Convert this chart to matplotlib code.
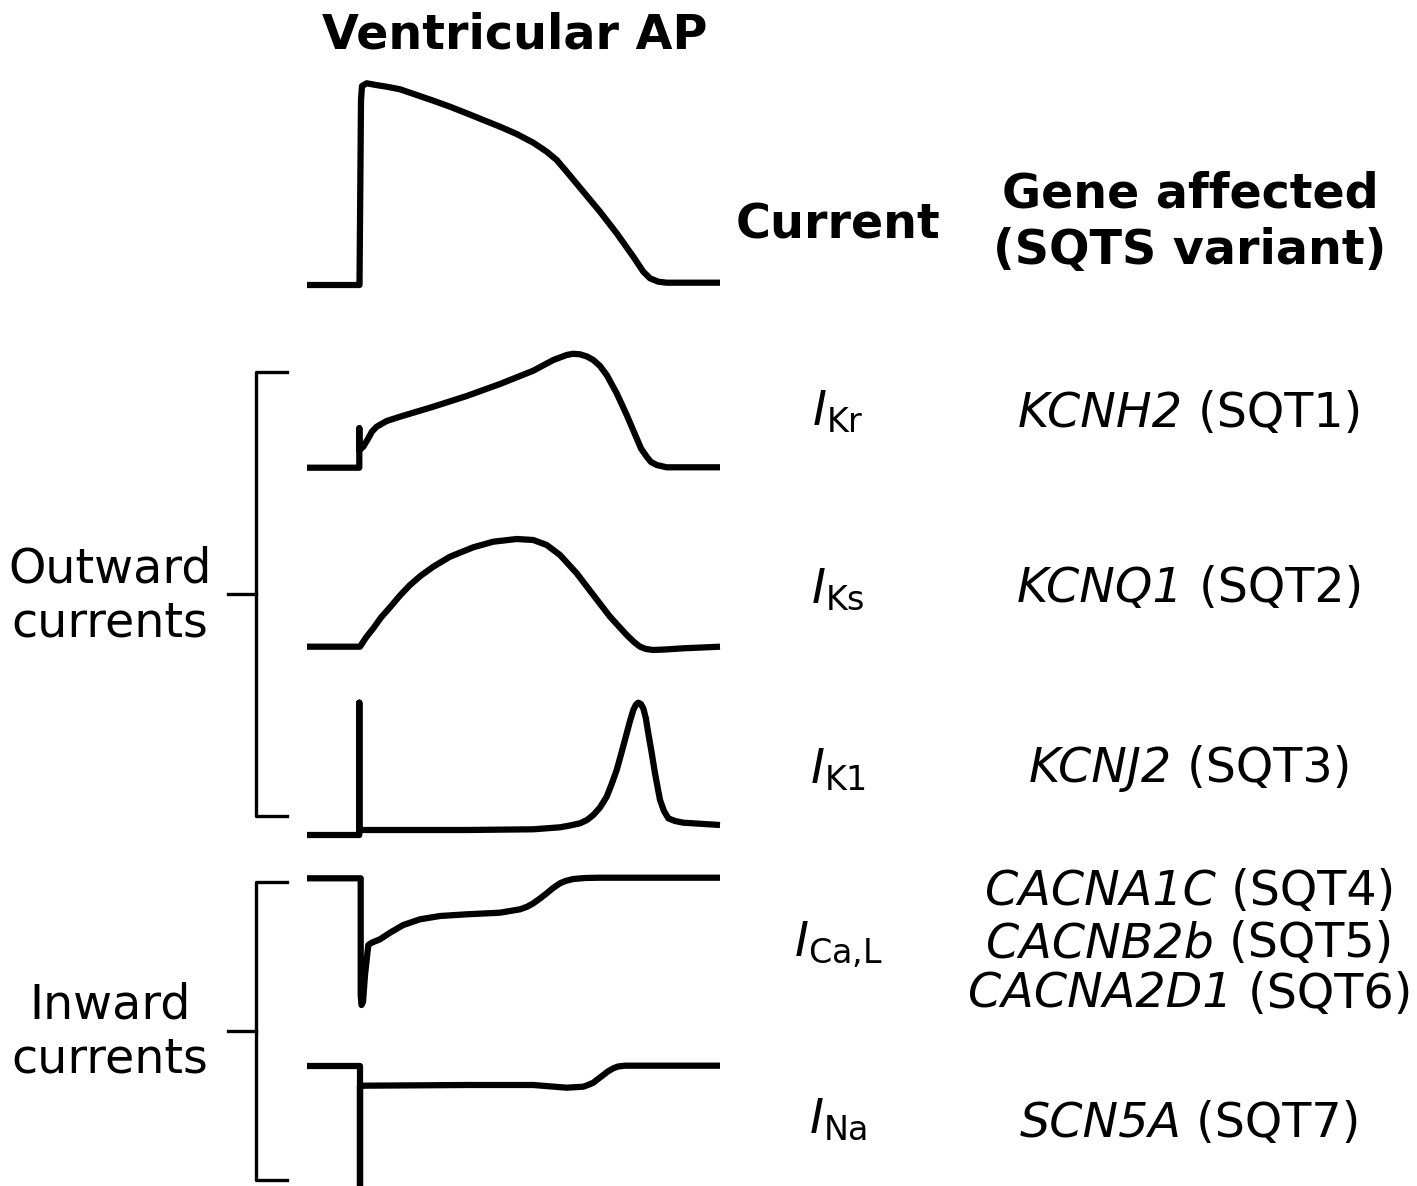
import matplotlib
matplotlib.use("Agg")
import matplotlib.pyplot as plt

plt.rcParams['font.family'] = ['DejaVu Sans']
plt.rcParams['mathtext.fontset'] = 'dejavusans'

# Traces (x, y in picture pixels, y grows downward)
ap_x = [307, 359, 359.5, 361, 362, 366.7, 376, 386.7, 400, 416.7, 433.3, 450, 466.7, 483.3, 500,
        516.7, 533.3, 546.7, 556.7, 566.7, 583.3, 600, 616.7, 633.3, 643.3, 650, 658.3, 666.7, 720]
ap_y = [285, 285, 285, 100, 86, 83.3, 85, 86.7, 89.3, 95, 100.7, 106.7, 113.3, 120, 126.7,
        134, 142.7, 151.7, 160, 171.7, 191.7, 211.7, 233.3, 256.7, 271.7, 278.3, 281.7, 282.7, 282.7]

ikr_x = [307, 359.3, 359.3, 359.3, 363.3, 368.3, 372, 376.7, 386.7, 400, 433.3, 466.7, 500, 533.3,
         553.3, 566.7, 573, 580, 587, 593.3, 600, 606.7, 616.7, 626.7, 636.7, 641, 646.7, 651, 656.7,
         666.7, 720]
ikr_y = [467.7, 467.7, 428.3, 450, 446.7, 438.3, 431.5, 426.7, 421, 416.7, 406.7, 396, 384, 370.7,
         360, 355, 353.8, 354.3, 356.5, 360, 366, 375, 393.3, 415, 438.3, 448.5, 456.7, 462, 465,
         467.3, 467.3]

iks_x = [307, 360, 366, 373.3, 381, 390, 400, 410, 421, 433.3, 450, 473.3, 493.3, 516.7, 533.3,
         546.7, 560, 576.7, 593.3, 610, 626.7, 634, 640, 646, 653.3, 665, 683.3, 720]
iks_y = [646.7, 646.7, 637.5, 628.3, 617.5, 607.3, 595.5, 585, 575.5, 566.7, 556.7, 547.3, 541.7,
         539, 540, 545, 555, 573.3, 595, 616.7, 635, 642, 646.7, 649, 650, 649.5, 648.3, 646.7]

ik1_x = [307, 359.3, 359.3, 359.3, 361.7, 466.7, 533.3, 560, 570, 580, 587, 593.3, 600, 606.7,
         611.7, 616.7, 621.7, 626.7, 630, 633.3, 636, 638.3, 640.8, 643.3, 645.8, 648.3, 651.7, 655,
         660, 664, 668.3, 675, 683.3, 720]
ik1_y = [835, 835, 702.7, 830, 830, 830, 829.3, 827.3, 825.5, 823.3, 820, 815, 807.5, 796.7,
         784, 770, 752, 733.3, 721, 710, 704.5, 702.7, 704, 708.3, 718, 733.3, 753, 773.3,
         800, 811, 818.3, 821, 822.7, 825]

ica_x = [307, 360.7, 360.7, 361.5, 363, 365, 368.3, 371.7, 380, 390, 403.3, 420, 440, 466.7, 500,
         520, 527, 533.3, 540, 546.7, 553.3, 560, 566, 573.3, 585, 600, 720]
ica_y = [878.3, 878.3, 995, 1005, 1002, 975, 945, 942.7, 939.3, 932.7, 925, 919.3, 916, 914.3,
         912.7, 909.3, 906.8, 903.3, 898.5, 893.3, 887.8, 883.3, 880.8, 879, 878, 877.7, 877.7]

ina_x = [307, 360, 360, 360, 363.3, 466.7, 533.3, 566.7, 583.3, 588, 593.3, 598, 603.3, 608,
         613.3, 618, 625, 720]
ina_y = [1066, 1066, 1190, 1086, 1085.7, 1085, 1085, 1087.7, 1086.7, 1085, 1082.7, 1079, 1075,
         1071.3, 1068.3, 1066.5, 1065.7, 1065.7]

traces = [(ap_x, ap_y), (ikr_x, ikr_y), (iks_x, iks_y),
          (ik1_x, ik1_y), (ica_x, ica_y), (ina_x, ina_y)]

currents = [r'$\mathit{I}_{\mathrm{Kr}}$', r'$\mathit{I}_{\mathrm{Ks}}$', r'$\mathit{I}_{\mathrm{K1}}$',
            r'$\mathit{I}_{\mathrm{Ca{,}L}}$', r'$\mathit{I}_{\mathrm{Na}}$']
current_y = [412, 590, 770, 945, 1120]

gene_names = ['KCNH2', 'KCNQ1', 'KCNJ2', 'CACNA1C', 'CACNB2b', 'CACNA2D1', 'SCN5A']
variants = ['SQT1', 'SQT2', 'SQT3', 'SQT4', 'SQT5', 'SQT6', 'SQT7']
gene_base = [427, 602, 782, 905, 957, 1008, 1137]

fig = plt.figure(figsize=(14.17, 11.86), dpi=100)
ax = fig.add_axes([0, 0, 1, 1])
ax.set_xlim(0, 1417)
ax.set_ylim(1186, 0)
ax.axis('off')

for xs, ys in traces:
    ax.plot(xs, ys, color='black', lw=4.5, solid_joinstyle='round', solid_capstyle='butt')

# brackets
for top, bot, mid in [(372, 816, 594), (882, 1180, 1031)]:
    ax.plot([287, 256, 256, 287], [top, top, bot, bot], color='black', lw=2.4)
    ax.plot([228, 256], [mid, mid], color='black', lw=2.4)

fs = 34.3
ax.text(515, 35, 'Ventricular AP', fontsize=fs, fontweight='bold', ha='center', va='center')
ax.text(838, 225, 'Current', fontsize=fs, fontweight='bold', ha='center', va='center')
ax.text(1190, 222, 'Gene affected\n(SQTS variant)', fontsize=fs, fontweight='bold',
        ha='center', va='center', linespacing=1.25)
ax.text(110, 596, 'Outward\ncurrents', fontsize=fs, ha='center', va='center', linespacing=1.2)
ax.text(110, 1032, 'Inward\ncurrents', fontsize=fs, ha='center', va='center', linespacing=1.2)

for lab, y in zip(currents, current_y):
    ax.text(838, y, lab, fontsize=fs, ha='center', va='center')

# gene (italic) + variant (upright), centred together
renderer = fig.canvas.get_renderer()
for g, v, y in zip(gene_names, variants, gene_base):
    t1 = ax.text(0, y, g, fontsize=fs, style='italic', ha='left', va='baseline')
    t2 = ax.text(0, y, ' (' + v + ')', fontsize=fs, ha='left', va='baseline')
    w1 = t1.get_window_extent(renderer).width
    w2 = t2.get_window_extent(renderer).width
    x0 = 1190 - (w1 + w2) / 2
    t1.set_x(x0)
    t2.set_x(x0 + w1)

fig.savefig('out.png', dpi=100)
